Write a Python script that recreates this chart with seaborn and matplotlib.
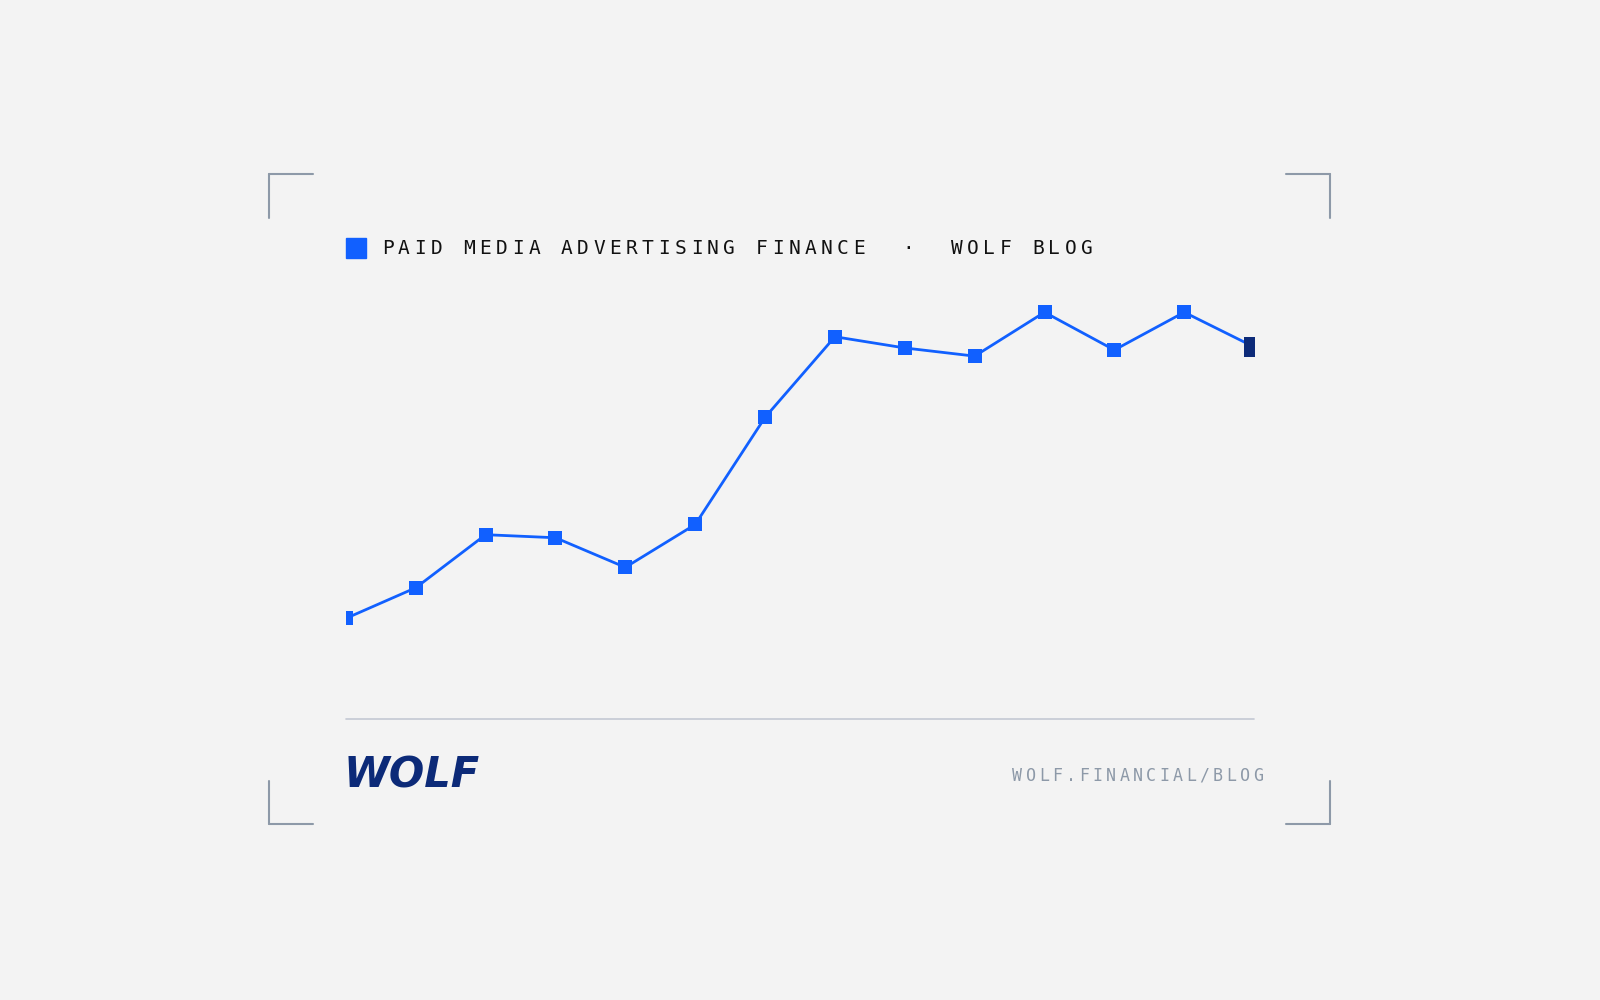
import numpy as np
import pandas as pd
import seaborn as sns
import matplotlib.pyplot as plt
from matplotlib.lines import Line2D

# values (arbitrary units)
periods = list(range(1, 15))
values = [34, 64, 116, 113, 84, 126, 231, 310, 299, 291, 334, 297, 334, 300]

title = "PAID MEDIA ADVERTISING FINANCE  ·  WOLF BLOG"
footer = "WOLF.FINANCIAL/BLOG"

W, H = 1568, 980
bg = "#f3f3f3"
blue = "#1160ff"
navy = "#0c2a78"
grey = "#8d99a8"

sns.set_style("white")
fig = plt.figure(figsize=(16, 10), dpi=100, facecolor=bg)

def fx(px): return px / W
def fy(py): return 1 - py / H

ax = fig.add_axes([fx(339), fy(640), fx(1229) - fx(339), (640 - 280) / H])
ax.set_facecolor("none")
df = pd.DataFrame({"period": periods, "value": values})
sns.lineplot(data=df, x="period", y="value", ax=ax, color=blue, linewidth=2,
             marker="s", markersize=10, markeredgewidth=0, markerfacecolor=blue)
ax.plot(df["period"].iloc[-1], df["value"].iloc[-1], marker="s", markersize=14,
        color=navy, markeredgewidth=0, zorder=5)
ax.set_xlim(periods[0], periods[-1])
ax.set_ylim(0, 360)
ax.axis("off")

# corner brackets
def bracket(x, y, dx, dy):
    fig.add_artist(Line2D([fx(x), fx(x + dx)], [fy(y), fy(y)], color=grey, lw=1.5))
    fig.add_artist(Line2D([fx(x), fx(x)], [fy(y), fy(y + dy)], color=grey, lw=1.5))
bracket(264, 171, 43, 43)
bracket(1303, 171, -43, 43)
bracket(264, 808, 43, -43)
bracket(1303, 808, -43, -43)

# title legend square + spaced mono text
fig.patches.append(plt.Rectangle((fx(339), fy(253)), fx(20), 20 / H, color=blue,
                                 transform=fig.transFigure, figure=fig))
step = (1059 - 374) / (len(title) - 1)
for i, ch in enumerate(title):
    fig.text(fx(374 + 6 + i * step), fy(244), ch, family="DejaVu Sans Mono",
             fontsize=14, color="#111111", ha="center", va="center")

# separator
fig.add_artist(Line2D([fx(339), fx(1229)], [fy(705), fy(705)], color="#c3c8d3", lw=1.2))

# logo
fig.text(fx(337), fy(760), "WOLF", fontsize=30, fontweight="heavy", style="italic",
         color=navy, ha="left", va="center", family="DejaVu Sans")

# footer url
step2 = (1228 - 992) / (len(footer) - 1)
for i, ch in enumerate(footer):
    fig.text(fx(992 + 5 + i * step2), fy(760), ch, family="DejaVu Sans Mono",
             fontsize=12, color=grey, ha="center", va="center")

fig.savefig("out.png", dpi=100, facecolor=bg)
